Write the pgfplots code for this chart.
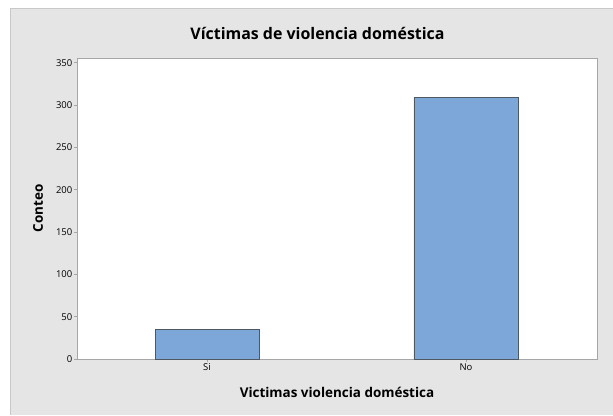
\documentclass[border=0pt]{standalone}
\usepackage{pgfplots}
\pgfplotsset{compat=1.18}
\usepackage{fontspec}
\setmainfont{Open Sans}
\definecolor{bgc}{HTML}{E5E5E5}
\definecolor{bgline}{HTML}{C8C8C8}
\definecolor{barfill}{HTML}{7DA7D9}
\definecolor{baredge}{HTML}{4D5863}
\definecolor{framec}{HTML}{A6A6A6}
\begin{document}
\begin{tikzpicture}[x=1bp,y=1bp]
\path[use as bounding box,fill=white] (0,0) rectangle (613,415);
\fill[bgc] (10,0) rectangle (613,407);
\draw[bgline,line width=0.8bp] (10,0) -- (10,407) -- (613,407);
\begin{axis}[
  at={(77bp,56bp)}, anchor=south west,
  scale only axis, width=520bp, height=301bp,
  xmin=-0.502, xmax=1.506, ymin=0, ymax=355.5,
  axis background/.style={fill=white},
  axis line style={framec, line width=0.8bp},
  xtick={0,1}, xticklabels={Si,No},
  ytick={0,50,...,350},
  tick align=outside, tick pos=left,
  major tick length=3bp,
  tick style={framec, line width=0.6bp},
  ticklabel style={font=\fontsize{9.5}{10}\selectfont, text=black},
  xticklabel style={inner sep=1.5bp},
  yticklabel style={inner sep=1.5bp},
  /pgf/number format/assume math mode=true,
  title={Víctimas de violencia doméstica},
  title style={font=\fontsize{16}{18}\selectfont\bfseries, at={(axis description cs:0.4625,1)}, anchor=base, yshift=12.3bp},
  xlabel={Victimas violencia doméstica},
  xlabel style={font=\fontsize{13.5}{15}\selectfont\bfseries, at={(axis description cs:0.5,0)}, anchor=base, yshift=-38bp},
  ylabel={Conteo},
  ylabel style={font=\fontsize{13.5}{15}\selectfont\bfseries, at={(axis description cs:-0.075,0.5)}, anchor=center, rotate=0},
  clip=false,
]
\addplot[ybar, bar width=104bp, fill=barfill, draw=baredge, line width=0.8bp] coordinates {(0,35) (1,309)};
\end{axis}
\end{tikzpicture}
\end{document}
